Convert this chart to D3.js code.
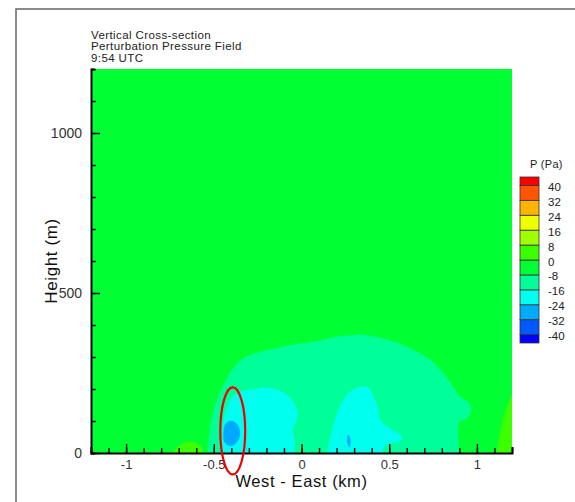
<!DOCTYPE html>
<html lang="en">
<head>
<meta charset="UTF-8">
<title>Vertical Cross-section - Perturbation Pressure Field</title>
<style>
  body { margin: 0; background: #fff; }
  svg { display: block; font-family: "Liberation Sans", Arial, sans-serif; }
</style>
</head>
<body>
<svg id="chart" width="575" height="502"></svg>
<script src="https://d3js.org/d3.v7.min.js"></script>
<script>
// contour levels (Pa) and band colours, lowest band first
const levelBreaks = [-40, -32, -24, -16, -8, 0, 8, 16, 24, 32, 40];
const levelColors = ["#0000ff", "#0058ff", "#00aaff", "#00ffee", "#00ff99", "#00ff33",
                     "#3cff00", "#a0ff00", "#eeff00", "#ffb400", "#ff5500", "#ff0000"];
const legendLabels = ["40", "32", "24", "16", "8", "0", "-8", "-16", "-24", "-32", "-40"];

const xMajorTicks = [-1, -0.5, 0, 0.5, 1];
const yMajorTicks = [0, 500, 1000];
const titleLines = ["Vertical Cross-section", "Perturbation Pressure Field", "9:54 UTC"];

// outlines: [west-east km, height m]
const ambientLevel = -4;
const eastGreen = [[1.114, 0], [1.131, 56], [1.165, 134], [1.199, 181], [1.24, 240]];
const eastGreenCorners = [[1.3, 240], [1.3, 0]];
const westGreen = [[-0.733, 0], [-0.699, 22], [-0.648, 34], [-0.602, 31], [-0.574, 19], [-0.557, 0]];
const domeOutline = [[-0.534, 0], [-0.528, 41], [-0.517, 88], [-0.500, 134], [-0.477, 172],
  [-0.449, 206], [-0.403, 253], [-0.335, 294], [-0.233, 316], [-0.136, 328], [-0.045, 338],
  [0.034, 344], [0.125, 353], [0.205, 363], [0.278, 366], [0.352, 369], [0.449, 359],
  [0.545, 344], [0.636, 322], [0.733, 291], [0.807, 250], [0.864, 206], [0.903, 175],
  [0.949, 159], [0.966, 134], [0.943, 109], [0.898, 97], [0.892, 56], [0.898, 0]];
const westCore = [[-0.449, 0], [-0.449, 56], [-0.443, 103], [-0.415, 156], [-0.364, 188],
  [-0.290, 197], [-0.193, 203], [-0.102, 188], [-0.045, 156], [-0.023, 125], [-0.034, 97],
  [-0.051, 72], [-0.040, 41], [-0.045, 0]];
const eastCore = [[0.148, 0], [0.176, 72], [0.205, 125], [0.239, 166], [0.278, 191],
  [0.335, 206], [0.381, 203], [0.409, 175], [0.432, 144], [0.449, 103], [0.489, 81],
  [0.545, 63], [0.574, 47], [0.551, 34], [0.506, 31], [0.466, 16], [0.460, 0]];
const westMin = [[-0.403, 100], [-0.369, 91], [-0.352, 63], [-0.364, 38], [-0.403, 22],
  [-0.438, 34], [-0.443, 66], [-0.432, 91]];
const eastMin = [[0.267, 56], [0.278, 38], [0.273, 19], [0.261, 38]];

const regions = [
  { value: 4, pts: eastGreen, corners: eastGreenCorners },
  { value: 4, pts: westGreen },
  { value: -12, pts: domeOutline },
  { value: -20, pts: westCore },
  { value: -20, pts: eastCore },
  { value: -28, pts: westMin, closed: true },
  { value: -28, pts: eastMin, closed: true }
];

// red highlight ellipse
const markCenter = [-0.392, 69];
const markRadii = [0.071, 136];

const margin = { top: 69, left: 91 };
const width = 421, height = 384;

const svg = d3.select("#chart");

// frame lines of the figure
svg.append("path")
  .attr("d", "M16,502V9H575")
  .attr("fill", "none")
  .attr("stroke", "#666")
  .attr("stroke-width", 1.5);

const x = d3.scaleLinear().domain([-1.2, 1.2]).range([0, width]);
const y = d3.scaleLinear().domain([0, 1200]).range([height, 0]);
const color = d3.scaleThreshold().domain(levelBreaks).range(levelColors);

const g = svg.append("g").attr("transform", `translate(${margin.left},${margin.top})`);

g.append("clipPath").attr("id", "plot-clip")
  .append("rect").attr("width", width).attr("height", height);

const field = g.append("g").attr("clip-path", "url(#plot-clip)");

field.append("rect")
  .attr("x", x(-1.2)).attr("y", y(1200))
  .attr("width", x(1.2) - x(-1.2)).attr("height", y(0) - y(1200))
  .attr("fill", color(ambientLevel));

const openLine = d3.line().x(d => x(d[0])).y(d => y(d[1])).curve(d3.curveCatmullRom.alpha(0.5));
const closedLine = d3.line().x(d => x(d[0])).y(d => y(d[1])).curve(d3.curveCatmullRomClosed.alpha(0.5));

field.selectAll("path.band")
  .data(regions)
  .join("path")
  .attr("class", "band")
  .attr("d", r => {
    if (r.closed) return closedLine(r.pts);
    const extra = (r.corners || []).map(c => `L${x(c[0])},${y(c[1])}`).join("");
    return openLine(r.pts) + extra + "Z";
  })
  .attr("fill", r => color(r.value))
  .attr("stroke", r => color(r.value))
  .attr("stroke-width", 0.6);

// axes, ticks pointing into the plot
const fmt = d => String(d);

const xMinor = g.append("g")
  .attr("transform", `translate(0,${height})`)
  .call(d3.axisBottom(x).tickValues(d3.range(-12, 13).map(v => v / 10)).tickSize(-5).tickFormat(""));
xMinor.select(".domain").remove();

const xAxis = g.append("g")
  .attr("transform", `translate(0,${height})`)
  .call(d3.axisBottom(x).tickValues(xMajorTicks).tickSizeInner(-9).tickSizeOuter(-6)
    .tickPadding(7).tickFormat(fmt));

const yMinor = g.append("g")
  .call(d3.axisLeft(y).tickValues(d3.range(0, 1201, 100)).tickSize(-5).tickFormat(""));
yMinor.select(".domain").remove();

const yAxis = g.append("g")
  .call(d3.axisLeft(y).tickValues(yMajorTicks).tickSizeInner(-9).tickSizeOuter(-4)
    .tickPadding(9).tickFormat(fmt));

[xAxis, yAxis, xMinor, yMinor].forEach(a => {
  a.selectAll("line").attr("stroke", "#000").attr("stroke-width", 1.4);
  a.selectAll(".domain").attr("stroke", "#000").attr("stroke-width", 2);
  a.selectAll("text").attr("fill", "#333")
    .style("font-family", "'Liberation Sans', Arial, sans-serif");
});
yAxis.selectAll("text").style("font-size", "14px");
xAxis.selectAll("text").style("font-size", "13px");

// axis titles
g.append("text")
  .attr("x", x(0)).attr("y", height + 34)
  .attr("text-anchor", "middle")
  .style("font-size", "16.5px").style("letter-spacing", "0.6px")
  .attr("fill", "#111")
  .text("West - East (km)");

g.append("text")
  .attr("transform", `translate(-34,${y(600)}) rotate(-90)`)
  .attr("text-anchor", "middle")
  .style("font-size", "17px").style("letter-spacing", "0.6px")
  .attr("fill", "#111")
  .text("Height (m)");

// title block
svg.append("g").selectAll("text")
  .data(titleLines)
  .join("text")
  .attr("x", margin.left)
  .attr("y", (d, i) => 38.5 + i * 11.5)
  .style("font-size", "11.5px").style("letter-spacing", "0.4px")
  .attr("fill", "#222")
  .text(d => d);

// highlight ellipse
g.append("ellipse")
  .attr("cx", x(markCenter[0])).attr("cy", y(markCenter[1]))
  .attr("rx", x(markCenter[0] + markRadii[0]) - x(markCenter[0]))
  .attr("ry", y(markCenter[1] - markRadii[1]) - y(markCenter[1]))
  .attr("fill", "none").attr("stroke", "#ee0000").attr("stroke-width", 2.2);

// legend
const ly = d3.scaleLinear().domain([44.5, -44.5]).range([177, 343]);
const bandEdges = [-44.5, ...levelBreaks, 44.5];
const legend = svg.append("g");

legend.append("text")
  .attr("x", 530).attr("y", 168)
  .style("font-size", "11px").style("letter-spacing", "0.3px")
  .attr("fill", "#222")
  .text("P (Pa)");

legend.selectAll("rect")
  .data(levelColors.map((c, i) => ({ c, lo: bandEdges[i], hi: bandEdges[i + 1] })))
  .join("rect")
  .attr("x", 520).attr("width", 19)
  .attr("y", d => ly(d.hi)).attr("height", d => ly(d.lo) - ly(d.hi))
  .attr("fill", d => d.c)
  .attr("stroke", "#333").attr("stroke-width", 0.8);

legend.selectAll("text.lab")
  .data(legendLabels)
  .join("text")
  .attr("class", "lab")
  .attr("x", 548)
  .attr("y", d => ly(+d) + 2.5)
  .attr("dominant-baseline", "middle")
  .style("font-size", "11.5px")
  .attr("fill", "#222")
  .text(d => d);
</script>
</body>
</html>
